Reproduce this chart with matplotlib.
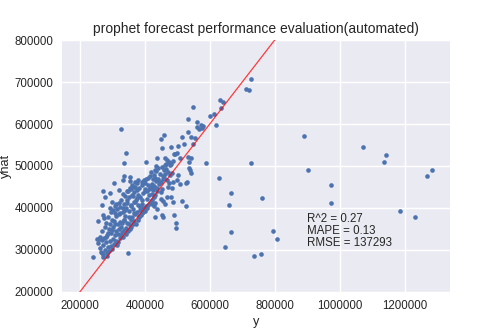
import matplotlib
matplotlib.use("Agg")
import matplotlib.pyplot as plt
import numpy as np

# ---- data ----
outlier_y = [326300, 341700, 336600, 549100, 532600, 726700, 710300, 720600, 631200, 639400,
             600400, 613800, 617900, 633300, 559300, 890000, 903300, 1072700, 1141500, 1135300,
             1285200, 1268800, 974100, 972100, 1185600, 1232800, 726700, 760600, 793400, 807800,
             735900, 758500, 666100, 658900, 665100, 645600, 627100, 589100, 513100, 526500,
             494700, 494700, 490600, 346800, 241100]
outlier_yhat = [587300, 530200, 506300, 641300, 611900, 707100, 682500, 680900, 657100, 653200,
                619800, 623000, 597600, 637300, 604000, 570600, 489700, 545200, 525400, 510300,
                491300, 476200, 454000, 412700, 392100, 379400, 507100, 424600, 344400, 325400,
                284900, 289700, 434600, 407100, 342900, 307200, 472200, 506300, 416700, 405600,
                364300, 352400, 383300, 292100, 284100]

upper_y = [449500, 459800, 451700, 479300, 500900, 514200, 520400, 533700, 542000, 559300,
           555200, 571700, 565500, 549100, 574700, 579900, 436100, 433000, 461800, 466900,
           488500, 493600, 497800, 487500, 476200, 460800, 464900, 507000, 533700, 540900,
           535700, 538800, 534700, 540900, 503800, 499700, 482300, 456700, 431000, 427900,
           410500, 403300, 424800, 438100, 452500, 446400, 467900, 475200, 487500, 509000,
           525400, 529500, 482300, 479300, 487500, 454600, 448500, 461800, 431000, 420800,
           432000, 454600, 452500, 438100, 427900, 420700, 408300, 401000, 413500, 422700,
           449500, 466900, 472100]
upper_yhat = [563500, 574600, 542100, 546000, 548400, 569000, 553300, 580200, 569000, 593700,
              567500, 596800, 587300, 553300, 590500, 595200, 519800, 500000, 518200, 515100,
              528600, 527800, 531000, 511900, 501600, 502400, 492900, 519000, 522200, 518200,
              509500, 491300, 494400, 483400, 479400, 466700, 484100, 476200, 471400, 479400,
              471400, 509500, 442900, 448400, 446000, 461900, 466700, 459600, 461900, 456300,
              460300, 462700, 448400, 427000, 415100, 417500, 421400, 409500, 412700, 409500,
              377800, 377800, 383300, 396800, 404800, 433800, 422200, 440500, 445200, 456300,
              438900, 427000, 450800]

mid_y = [304700, 320100, 293400, 271900, 277000, 267700, 291700, 271900, 274700, 254400,
         298600, 307800, 309900, 335500, 333500, 353100, 353100, 333500, 344800, 367400,
         357100, 375500, 368500, 379700, 392000, 396100, 400300, 362200, 374500, 389900,
         369500, 343800, 331400, 323100, 337500, 358900, 384800, 397200, 391000, 380700,
         366400, 352000, 335500, 322200, 308800, 299600, 286200, 280100, 266700, 257500,
         256500, 261600, 266700, 271900, 284200, 253400]
mid_yhat = [458700, 442900, 436500, 440500, 427000, 407100, 399200, 383300, 375400, 369000,
            415100, 387300, 409500, 477000, 466700, 474600, 464300, 433300, 441300, 450800,
            444400, 442900, 462700, 466700, 461900, 466700, 458700, 428600, 423000, 419100,
            415100, 412700, 399200, 387300, 395200, 407100, 403200, 399200, 387300, 379400,
            387300, 379400, 371400, 367500, 361900, 347600, 339700, 330200, 323800, 327000,
            317500, 304000, 292100, 284100, 285700, 325400]

core_y = [262000, 265000, 268000, 270000, 272000, 274000, 276000, 278000, 280000, 281000,
          283000, 285000, 286000, 288000, 289000, 291000, 292000, 293000, 295000, 296000,
          297000, 299000, 300000, 301000, 302000, 303000, 305000, 306000, 307000, 308000,
          310000, 311000, 312000, 313000, 315000, 316000, 317000, 318000, 320000, 321000,
          322000, 323000, 325000, 326000, 327000, 328000, 330000, 331000, 332000, 333000,
          335000, 336000, 337000, 338000, 340000, 341000, 342000, 343000, 345000, 346000,
          347000, 348000, 350000, 351000, 352000, 353000, 355000, 356000, 357000, 358000,
          360000, 361000, 362000, 363000, 365000, 366000, 367000, 368000, 370000, 371000,
          372000, 374000, 375000, 376000, 378000, 379000, 380000, 382000, 383000, 385000,
          386000, 388000, 390000, 391000, 393000, 395000, 396000, 398000, 400000, 401000,
          403000, 405000, 406000, 408000, 410000, 411000, 413000, 415000, 417000, 418000,
          420000, 422000, 424000, 425000, 427000, 429000, 430000, 432000, 434000, 436000,
          438000, 440000, 442000, 445000, 447000, 450000, 452000, 455000, 458000, 460000,
          463000, 466000, 470000, 474000, 478000, 482000]
core_yhat = [330000, 295000, 345000, 312000, 290000, 328000, 355000, 300000, 318000, 365000,
             293000, 335000, 378000, 308000, 350000, 298000, 362000, 322000, 390000, 310000,
             340000, 372000, 303000, 355000, 325000, 395000, 315000, 368000, 335000, 405000,
             322000, 380000, 345000, 312000, 398000, 338000, 362000, 318000, 412000, 350000,
             385000, 328000, 402000, 355000, 335000, 420000, 365000, 342000, 390000, 330000,
             410000, 372000, 348000, 428000, 380000, 352000, 400000, 338000, 418000, 365000,
             440000, 345000, 392000, 362000, 425000, 350000, 448000, 372000, 405000, 355000,
             430000, 378000, 455000, 362000, 398000, 438000, 368000, 415000, 385000, 450000,
             362000, 420000, 390000, 460000, 372000, 408000, 432000, 380000, 448000, 395000,
             425000, 383000, 410000, 455000, 390000, 435000, 400000, 465000, 392000, 445000,
             405000, 470000, 400000, 440000, 455000, 408000, 430000, 475000, 412000, 450000,
             485000, 420000, 445000, 470000, 425000, 452000, 490000, 430000, 465000, 488000,
             440000, 470000, 495000, 458000, 482000, 462000, 498000, 468000, 490000, 472000,
             482000, 505000, 485000, 510000, 478000, 505000]

y_vals = outlier_y + upper_y + mid_y + core_y
yhat_vals = outlier_yhat + upper_yhat + mid_yhat + core_yhat

line_vals = [200000, 800000]

title = "prophet forecast performance evaluation(automated)"
stats_text = "R^2 = 0.27\nMAPE = 0.13\nRMSE = 137293"

# ---- style ----
plt.rcParams['font.family'] = ['Liberation Sans', 'DejaVu Sans']
fig = plt.figure(figsize=(5.0, 3.34), dpi=100)
ax = fig.add_axes([0.124, 0.126, 0.776, 0.754])
ax.set_facecolor('#EAEAF2')
for s in ax.spines.values():
    s.set_visible(False)
ax.grid(True, color='white', linewidth=1.0)
ax.set_axisbelow(True)
ax.tick_params(length=0, labelsize=8.3, colors='#262626', pad=6)

ax.scatter(y_vals, yhat_vals, s=11, color='#4C72B0', linewidths=0, zorder=3)
ax.plot(line_vals, line_vals, color='red', linewidth=0.9, alpha=0.75, zorder=4)

ax.set_xlim(145000, 1340000)
ax.set_ylim(200000, 800000)
ax.set_xticks([200000, 400000, 600000, 800000, 1000000, 1200000])
ax.set_yticks([200000, 300000, 400000, 500000, 600000, 700000, 800000])
ax.ticklabel_format(style='plain', useOffset=False)

ax.set_xlabel('y', fontsize=9.2, color='#262626', labelpad=3)
ax.set_ylabel('yhat', fontsize=9.2, color='#262626', labelpad=2)
ax.set_title(title, fontsize=10, color='#262626', pad=5)
ax.text(900000, 303000, stats_text, fontsize=8.3, color='#262626', va='bottom',
        linespacing=1.0, zorder=5)

fig.savefig('out.png', dpi=100)
